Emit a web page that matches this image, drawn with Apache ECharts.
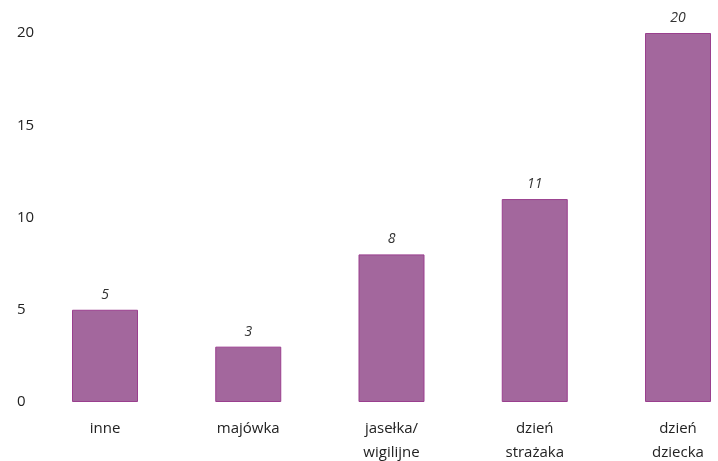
<!DOCTYPE html>
<html>
<head>
<meta charset="utf-8">
<script src="https://cdn.jsdelivr.net/npm/echarts@6/dist/echarts.min.js"></script>
<style>
  html, body { margin: 0; padding: 0; background: #fff; }
  #chart { width: 718px; height: 461px; }
</style>
</head>
<body>
<div id="chart"></div>
<script>
  // categories and values
  var categories = ['inne', 'majówka', 'jasełka/\nwigilijne', 'dzień\nstrażaka', 'dzień\ndziecka'];
  var values = [5, 3, 8, 11, 20];
  var yTicks = [0, 5, 10, 15, 20];

  var chart = echarts.init(document.getElementById('chart'));
  chart.setOption({
    backgroundColor: '#fff',
    animation: false,
    textStyle: { fontFamily: 'Open Sans' },
    // boundaryGap off so the first and last bar centres sit on the grid edges
    grid: { left: 105, right: 40, top: 33, bottom: 59, containLabel: false, outerBoundsMode: 'none' },
    xAxis: {
      type: 'category',
      data: categories,
      boundaryGap: false,
      axisLine: { show: false },
      axisTick: { show: false },
      splitLine: { show: false },
      axisLabel: {
        margin: 15,
        fontSize: 15,
        lineHeight: 24,
        color: '#222',
        verticalAlign: 'top',
        fontFamily: 'Open Sans'
      }
    },
    yAxis: {
      type: 'value',
      min: yTicks[0],
      max: yTicks[yTicks.length - 1],
      interval: 5,
      splitLine: { show: false },
      axisLine: { show: false },
      axisTick: { show: false },
      axisLabel: {
        align: 'left',
        margin: 88,
        fontSize: 15,
        color: '#222',
        fontFamily: 'Open Sans'
      }
    },
    series: [{
      type: 'bar',
      data: values,
      barWidth: 66,
      itemStyle: {
        color: '#a3679d',
        borderColor: '#9a3f8e',
        borderWidth: 1
      },
      label: {
        show: true,
        position: 'top',
        distance: 8,
        fontSize: 14,
        fontStyle: 'italic',
        color: '#333',
        fontFamily: 'Open Sans'
      }
    }]
  });
</script>
</body>
</html>
